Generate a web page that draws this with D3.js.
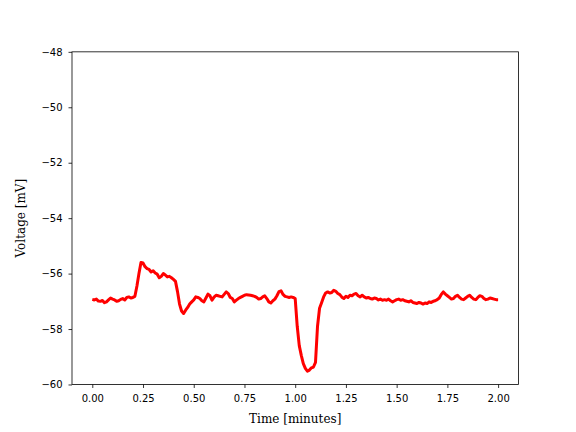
<!DOCTYPE html>
<html>
<head>
<meta charset="utf-8">
<script src="https://cdn.jsdelivr.net/npm/d3@7"></script>
<style>
  body { margin: 0; background: #fff; }
  .tick text { font-family: "DejaVu Sans", sans-serif; font-size: 10px; fill: #000; }
  .axis-text { font-family: "DejaVu Serif", serif; font-size: 12px; fill: #000; }
</style>
</head>
<body>
<div class="chart"></div>
<script>
var svgWidth = 576;
var svgHeight = 432;

var margin = { top: 51.84, right: 57.6, bottom: 47.52, left: 72 };

var width = svgWidth - margin.left - margin.right;
var height = svgHeight - margin.top - margin.bottom;

// time step between samples, in minutes
var timeStep = 0.01;

// membrane voltage (mV), one value every 0.01 min from 0.00 to 2.00
var voltage = [
  -56.93, -56.95, -56.92, -56.99, -57.00, -56.97, -57.05, -57.02, -56.95, -56.88,
  -56.92, -56.95, -57.00, -56.98, -56.93, -56.90, -56.95, -56.86, -56.84, -56.88,
  -56.86, -56.82, -56.45, -56.00, -55.60, -55.62, -55.75, -55.82, -55.85, -55.94,
  -55.90, -55.98, -56.02, -56.15, -56.10, -56.00, -56.05, -56.12, -56.10, -56.15,
  -56.21, -56.28, -56.65, -57.10, -57.35, -57.44, -57.32, -57.22, -57.10, -57.02,
  -56.95, -56.84, -56.86, -56.90, -56.98, -57.02, -56.88, -56.74, -56.80, -56.96,
  -56.85, -56.78, -56.80, -56.82, -56.84, -56.75, -56.66, -56.72, -56.86, -56.90,
  -57.02, -56.96, -56.90, -56.86, -56.82, -56.78, -56.76, -56.77, -56.78, -56.80,
  -56.82, -56.86, -56.92, -56.90, -56.84, -56.80, -56.90, -57.02, -57.06, -56.98,
  -56.92, -56.80, -56.65, -56.62, -56.75, -56.82, -56.84, -56.86, -56.84, -56.86,
  -56.90, -57.90, -58.60, -58.95, -59.25, -59.42, -59.52, -59.48, -59.40, -59.37,
  -59.20, -57.90, -57.25, -57.05, -56.84, -56.70, -56.66, -56.70, -56.68, -56.60,
  -56.64, -56.72, -56.76, -56.85, -56.90, -56.82, -56.86, -56.78, -56.80, -56.74,
  -56.72, -56.80, -56.84, -56.78, -56.84, -56.88, -56.86, -56.90, -56.92, -56.88,
  -56.90, -56.95, -56.92, -56.96, -56.94, -56.96, -56.92, -56.98, -57.02, -56.98,
  -56.94, -56.92, -56.96, -56.94, -56.98, -57.00, -57.02, -56.98, -57.04, -57.06,
  -57.08, -57.04, -57.06, -57.10, -57.06, -57.08, -57.02, -57.04, -57.00, -56.98,
  -56.94, -56.88, -56.75, -56.66, -56.74, -56.80, -56.86, -56.92, -56.90, -56.82,
  -56.78, -56.86, -56.92, -56.94, -56.88, -56.82, -56.78, -56.86, -56.92, -56.94,
  -56.86, -56.80, -56.82, -56.90, -56.94, -56.92, -56.88, -56.90, -56.92, -56.94,
  -56.94
];

var xTicks = [0, 0.25, 0.5, 0.75, 1.0, 1.25, 1.5, 1.75, 2.0];
var yTicks = [-60, -58, -56, -54, -52, -50, -48];

var trace = voltage.map(function(v, i) {
  return { time: i * timeStep, volt: v };
});

var svg = d3
  .select(".chart")
  .append("svg")
  .attr("width", svgWidth)
  .attr("height", svgHeight)
  .append("g")
  .attr("transform", "translate(" + margin.left + "," + margin.top + ")");

var chart = svg.append("g");

var xLinearScale = d3.scaleLinear().domain([-0.1, 2.1]).range([0, width]);
var yLinearScale = d3.scaleLinear().domain([-60, -48]).range([height, 0]);

var minusFmt = function(f) {
  return function(d) { return d3.format(f)(d).replace("-", "\u2212"); };
};

var bottomAxis = d3.axisBottom(xLinearScale)
  .tickValues(xTicks)
  .tickSizeInner(3.5)
  .tickSizeOuter(0)
  .tickPadding(7)
  .tickFormat(minusFmt(".2f"));
var leftAxis = d3.axisLeft(yLinearScale)
  .tickValues(yTicks)
  .tickSizeInner(3.5)
  .tickSizeOuter(0)
  .tickPadding(6)
  .tickFormat(minusFmt("d"));

var line = d3.line()
  .x(function(d) { return xLinearScale(d.time); })
  .y(function(d) { return yLinearScale(d.volt); });

chart.append("path")
  .datum(trace)
  .attr("fill", "none")
  .attr("stroke", "#ff0000")
  .attr("stroke-width", 3)
  .attr("stroke-linejoin", "round")
  .attr("d", line);

var xAxisG = chart.append("g")
  .attr("transform", "translate(0," + height + ")")
  .call(bottomAxis);

var yAxisG = chart.append("g").call(leftAxis);

[xAxisG, yAxisG].forEach(function(g) {
  g.select(".domain").remove();
  g.selectAll(".tick line").attr("stroke", "#000").attr("stroke-width", 0.8);
  g.attr("font-family", null).attr("font-size", null);
});

// frame
chart.append("rect")
  .attr("width", width)
  .attr("height", height)
  .attr("fill", "none")
  .attr("stroke", "#000")
  .attr("stroke-width", 0.8);

chart.append("text")
  .attr("class", "axis-text")
  .attr("text-anchor", "middle")
  .attr("x", width / 2)
  .attr("y", height + 39)
  .text("Time [minutes]");

chart.append("text")
  .attr("class", "axis-text")
  .attr("text-anchor", "middle")
  .attr("transform", "translate(" + (25 - margin.left) + "," + height / 2 + ") rotate(-90)")
  .text("Voltage [mV]");
</script>
</body>
</html>
